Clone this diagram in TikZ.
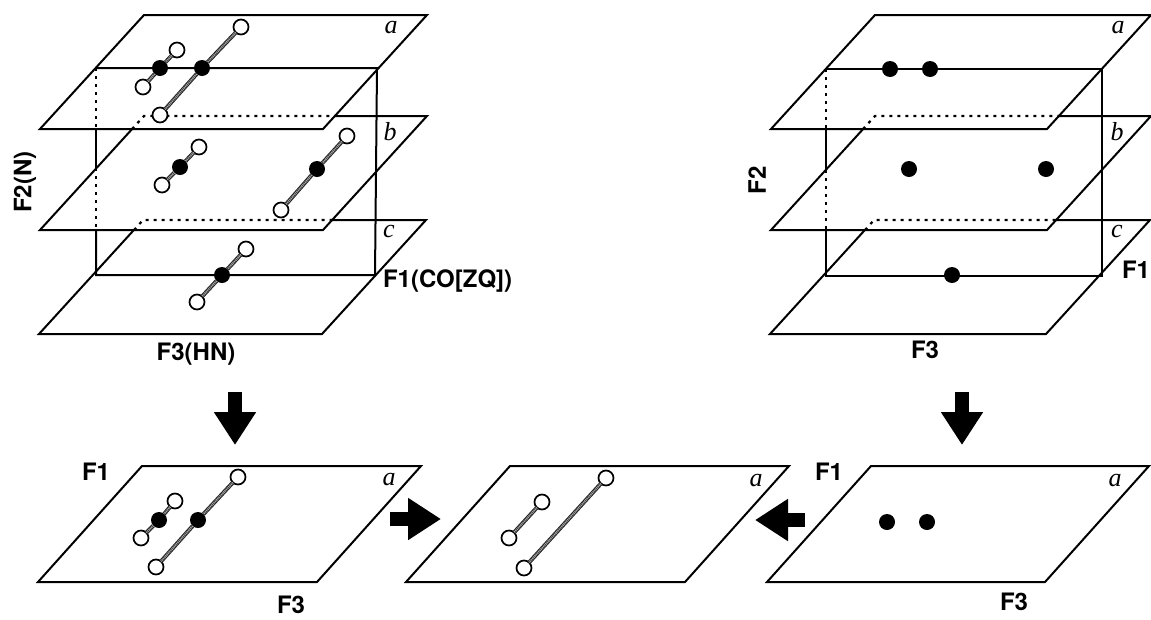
\documentclass[tikz,border=0pt]{standalone}
\usepackage{fontspec}
\setmainfont{TeX Gyre Heros}
\newfontfamily\planefont{Liberation Serif}
\usetikzlibrary{arrows.meta}
\tikzset{
  plane/.style={draw=black,fill=white,line join=miter,line cap=butt,line width=2pt},
  edge/.style={draw=black,line join=miter,line cap=butt,line width=2pt},
  hidden/.style={draw=black,line width=2.2pt,dash pattern=on 3pt off 5pt},
  hatch/.style={draw=black!35,line width=2pt,dash pattern=on 1pt off 0.8pt,
    preaction={draw=black!85,line width=4pt}},
  open/.style={circle,draw=black,fill=white,line width=1.7pt,minimum size=15pt},
  full/.style={circle,fill=black,minimum size=16pt},
  axis/.style={font=\fontsize{24}{25}\selectfont\bfseries},
  tag/.style={font=\fontsize{26}{27}\selectfont\planefont\itshape},
  block/.style={draw=black,line width=14pt,-{Triangle[length=33pt,width=40pt]}}
}

\begin{document}
\begin{tikzpicture}[y=1pt, x=1pt, yscale=-1, inner sep=0pt, outer sep=0pt]
  \useasboundingbox (0,0) rectangle (1151,619);

  % left stack
  \path[plane] (39,334) -- (322,334) -- (426,220) -- (143,220) -- cycle;
  \path[plane] (40,230) -- (323,230) -- (427,116) -- (144,116) -- cycle;
  \path[plane] (40,129) -- (323,129) -- (427,15) -- (144,15) -- cycle;
  \path[hidden] (132,129) -- (144,116) -- (335,116);
  \path[hidden] (134,230) -- (143,220) -- (332,220);
  \path[hidden] (96,68) -- (96,129);
  \path[hidden] (96,168) -- (96,230);
  \path[edge] (96,230) -- (96,275) -- (375,275) -- (377,68) -- (96,68);
  \path[edge] (96,129) -- (96,168);

  % right stack
  \path[plane] (770,334) -- (1046,334) -- (1150,220) -- (874,220) -- cycle;
  \path[plane] (771,230) -- (1047,230) -- (1151,116) -- (875,116) -- cycle;
  \path[plane] (771,129) -- (1047,129) -- (1151,15) -- (875,15) -- cycle;
  \path[hidden] (863,129) -- (875,116) -- (1059,116);
  \path[hidden] (865,230) -- (874,220) -- (1056,220);
  \path[hidden] (826,69) -- (826,129);
  \path[hidden] (826,170) -- (826,230);
  \path[edge] (826,230) -- (826,276) -- (1102,276) -- (1102,69) -- (826,69);
  \path[edge] (826,129) -- (826,170);

  % bottom row
  \path[plane] (38,582) -- (317,582) -- (421,466) -- (142,466) -- cycle;
  \path[plane] (406,582) -- (685,582) -- (789,466) -- (510,466) -- cycle;
  \path[plane] (767,582) -- (1045,582) -- (1149,466) -- (871,466) -- cycle;

  % peaks, left stack
  \path (241,27) node[open] (la-o1) {};
  \path (202,68) node[full] (la-f1) {};
  \path (160,115) node[open] (la-o2) {};
  \path (177,50) node[open] (la-o3) {};
  \path (160,68) node[full] (la-f2) {};
  \path (143,87) node[open] (la-o4) {};
  \path (199,147) node[open] (lb-o1) {};
  \path (180,167) node[full] (lb-f1) {};
  \path (162,185) node[open] (lb-o2) {};
  \path (347,136) node[open] (lb-o3) {};
  \path (317,169) node[full] (lb-f2) {};
  \path (281,210) node[open] (lb-o4) {};
  \path (246,249) node[open] (lc-o1) {};
  \path (222,275) node[full] (lc-f1) {};
  \path (197,302) node[open] (lc-o2) {};
  \path[hatch] (la-o1) -- (la-f1) -- (la-o2);
  \path[hatch] (la-o3) -- (la-f2) -- (la-o4);
  \path[hatch] (lb-o1) -- (lb-f1) -- (lb-o2);
  \path[hatch] (lb-o3) -- (lb-f2) -- (lb-o4);
  \path[hatch] (lc-o1) -- (lc-f1) -- (lc-o2);

  % peaks, right stack
  \path (890,69) node[full] (ra-f1) {};
  \path (930,69) node[full] (ra-f2) {};
  \path (909,169) node[full] (rb-f1) {};
  \path (1046,169) node[full] (rb-f2) {};
  \path (952,275) node[full] (rc-f1) {};

  % peaks, bottom row
  \path (238,477) node[open] (pa-o1) {};
  \path (198,520) node[full] (pa-f1) {};
  \path (156,567) node[open] (pa-o2) {};
  \path (175,501) node[open] (pa-o3) {};
  \path (159,520) node[full] (pa-f2) {};
  \path (141,538) node[open] (pa-o4) {};
  \path[hatch] (pa-o1) -- (pa-f1) -- (pa-o2);
  \path[hatch] (pa-o3) -- (pa-f2) -- (pa-o4);
  \path (606,478) node[open] (qa-o1) {};
  \path (524,568) node[open] (qa-o2) {};
  \path (542,502) node[open] (qa-o3) {};
  \path (509,538) node[open] (qa-o4) {};
  \path[hatch] (qa-o1) -- (qa-o2);
  \path[hatch] (qa-o3) -- (qa-o4);
  \path (887,522) node[full] (sa-f1) {};
  \path (927,522) node[full] (sa-f2) {};

  % block arrows
  \coordinate (down-l0) at (235,392);
  \coordinate (down-l1) at (235,445);
  \coordinate (down-r0) at (962,392);
  \coordinate (down-r1) at (962,445);
  \coordinate (into-l0) at (390,519);
  \coordinate (into-l1) at (441,519);
  \coordinate (into-r0) at (805,520);
  \coordinate (into-r1) at (755,520);
  \draw[block] (down-l0) -- (down-l1);
  \draw[block] (down-r0) -- (down-r1);
  \draw[block] (into-l0) -- (into-l1);
  \draw[block] (into-r0) -- (into-r1);

  % plane tags
  \path (391,33) node[tag,anchor=base] (tag-la) {a};
  \path (390,140) node[tag,anchor=base] (tag-lb) {b};
  \path (389,237) node[tag,anchor=base] (tag-lc) {c};
  \path (1118,33) node[tag,anchor=base] (tag-ra) {a};
  \path (1117,140) node[tag,anchor=base] (tag-rb) {b};
  \path (1117,237) node[tag,anchor=base] (tag-rc) {c};
  \path (389,485) node[tag,anchor=base] (tag-pa) {a};
  \path (756,486) node[tag,anchor=base] (tag-qa) {a};
  \path (1115,486) node[tag,anchor=base] (tag-sa) {a};

  % axis labels
  \path (25,182) node[axis,rotate=90] (ax-f2l) {F2(N)};
  \path (383,287) node[axis,anchor=base west] (ax-f1l) {F1(CO[ZQ])};
  \path (196,360) node[axis,anchor=base] (ax-f3l) {F3(HN)};
  \path (757,180) node[axis,rotate=90] (ax-f2r) {F2};
  \path (1122,278) node[axis,anchor=base west] (ax-f1r) {F1};
  \path (925,358) node[axis,anchor=base] (ax-f3r) {F3};
  \path (82,480) node[axis,anchor=base west] (ax-f1p) {F1};
  \path (277,613) node[axis,anchor=base west] (ax-f3p) {F3};
  \path (815,480) node[axis,anchor=base west] (ax-f1s) {F1};
  \path (1000,610) node[axis,anchor=base west] (ax-f3s) {F3};
\end{tikzpicture}
\end{document}
